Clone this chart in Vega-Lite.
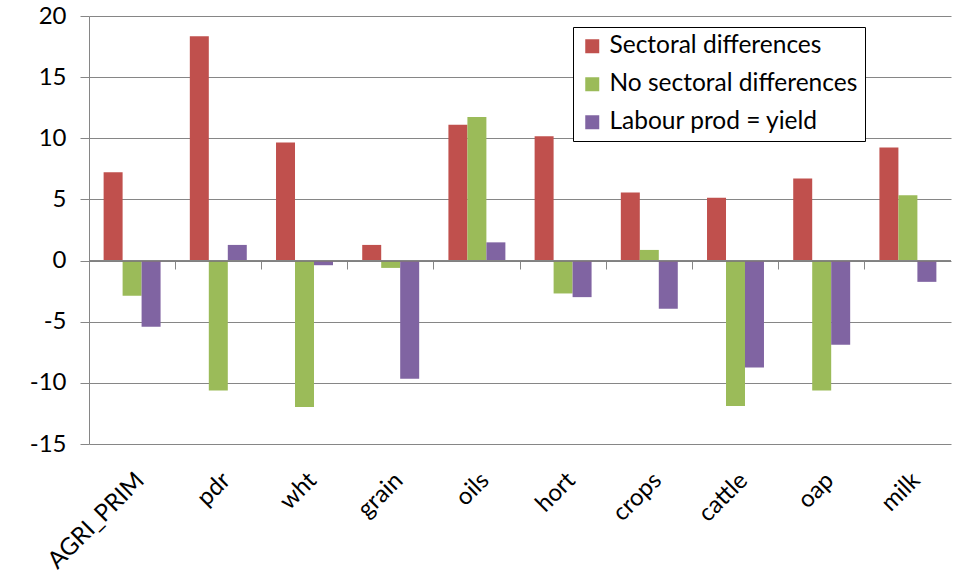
{
  "$schema": "https://vega.github.io/schema/vega-lite/v6.json",
  "width": 862,
  "height": 428,
  "autosize": "none",
  "padding": {"left": 89, "top": 16, "right": 13, "bottom": 135},
  "background": "white",
  "data": {
    "values": [
      {"sector": "AGRI_PRIM", "scenario": "Sectoral differences", "value": 7.23},
      {"sector": "AGRI_PRIM", "scenario": "No sectoral differences", "value": -2.88},
      {"sector": "AGRI_PRIM", "scenario": "Labour prod = yield", "value": -5.41},
      {"sector": "pdr", "scenario": "Sectoral differences", "value": 18.34},
      {"sector": "pdr", "scenario": "No sectoral differences", "value": -10.62},
      {"sector": "pdr", "scenario": "Labour prod = yield", "value": 1.28},
      {"sector": "wht", "scenario": "Sectoral differences", "value": 9.65},
      {"sector": "wht", "scenario": "No sectoral differences", "value": -11.98},
      {"sector": "wht", "scenario": "Labour prod = yield", "value": -0.38},
      {"sector": "grain", "scenario": "Sectoral differences", "value": 1.28},
      {"sector": "grain", "scenario": "No sectoral differences", "value": -0.6},
      {"sector": "grain", "scenario": "Labour prod = yield", "value": -9.67},
      {"sector": "oils", "scenario": "Sectoral differences", "value": 11.11},
      {"sector": "oils", "scenario": "No sectoral differences", "value": 11.74},
      {"sector": "oils", "scenario": "Labour prod = yield", "value": 1.49},
      {"sector": "hort", "scenario": "Sectoral differences", "value": 10.16},
      {"sector": "hort", "scenario": "No sectoral differences", "value": -2.69},
      {"sector": "hort", "scenario": "Labour prod = yield", "value": -2.99},
      {"sector": "crops", "scenario": "Sectoral differences", "value": 5.57},
      {"sector": "crops", "scenario": "No sectoral differences", "value": 0.87},
      {"sector": "crops", "scenario": "Labour prod = yield", "value": -3.94},
      {"sector": "cattle", "scenario": "Sectoral differences", "value": 5.14},
      {"sector": "cattle", "scenario": "No sectoral differences", "value": -11.9},
      {"sector": "cattle", "scenario": "Labour prod = yield", "value": -8.75},
      {"sector": "oap", "scenario": "Sectoral differences", "value": 6.71},
      {"sector": "oap", "scenario": "No sectoral differences", "value": -10.62},
      {"sector": "oap", "scenario": "Labour prod = yield", "value": -6.88},
      {"sector": "milk", "scenario": "Sectoral differences", "value": 9.24},
      {"sector": "milk", "scenario": "No sectoral differences", "value": 5.35},
      {"sector": "milk", "scenario": "Labour prod = yield", "value": -1.74}
    ]
  },
  "resolve": {"axis": {"x": "independent"}},
  "layer": [
    {
      "mark": {"type": "bar"},
      "encoding": {
        "x": {
          "field": "sector",
          "type": "nominal",
          "sort": null,
          "scale": {"paddingInner": 0, "paddingOuter": 0},
          "axis": {
            "orient": "bottom",
            "title": null,
            "domain": false,
            "ticks": false,
            "labelAngle": -45,
            "labelFontSize": 24,
            "labelColor": "#000000",
            "labelPadding": 24,
            "labelLimit": 300
          }
        },
        "xOffset": {
          "field": "scenario",
          "type": "nominal",
          "sort": ["Sectoral differences", "No sectoral differences", "Labour prod = yield"],
          "scale": {"paddingInner": 0, "paddingOuter": 0.77}
        },
        "y": {
          "field": "value",
          "type": "quantitative",
          "scale": {"domain": [-15, 20], "nice": false, "zero": false},
          "axis": {
            "title": null,
            "values": [-15, -10, -5, 0, 5, 10, 15, 20],
            "labelExpr": "toString(datum.value)",
            "grid": true,
            "gridColor": "#868686",
            "gridOpacity": 1,
            "domain": true,
            "domainColor": "#868686",
            "tickColor": "#868686",
            "tickSize": 9,
            "labelFontSize": 24,
            "labelColor": "#000000",
            "labelPadding": 14
          }
        },
        "color": {
          "field": "scenario",
          "type": "nominal",
          "sort": ["Sectoral differences", "No sectoral differences", "Labour prod = yield"],
          "scale": {
            "domain": ["Sectoral differences", "No sectoral differences", "Labour prod = yield"],
            "range": ["#C0504D", "#9BBB59", "#8064A2"]
          },
          "legend": {
            "title": null,
            "orient": "none",
            "legendX": 484,
            "legendY": 11,
            "strokeColor": "#000000",
            "fillColor": "#ffffff",
            "padding": 7,
            "symbolType": "square",
            "symbolSize": 196,
            "symbolStrokeWidth": 0,
            "labelFontSize": 24.5,
            "labelColor": "#000000",
            "labelLimit": 400,
            "rowPadding": 13,
            "labelOffset": 5
          }
        }
      }
    },
    {
      "mark": {"type": "rule", "color": "#868686", "strokeWidth": 1},
      "encoding": {"y": {"datum": 0}}
    },
    {
      "mark": {"type": "tick", "opacity": 0},
      "encoding": {
        "x": {
          "field": "sector",
          "type": "nominal",
          "sort": null,
          "axis": {
            "orient": "bottom",
            "offset": -183,
            "title": null,
            "labels": false,
            "domain": false,
            "ticks": true,
            "tickSize": 8,
            "tickColor": "#868686",
            "bandPosition": 0,
            "grid": false
          }
        },
        "y": {"datum": 0}
      }
    }
  ],
  "config": {
    "font": "Lato",
    "view": {"stroke": null}
  }
}
